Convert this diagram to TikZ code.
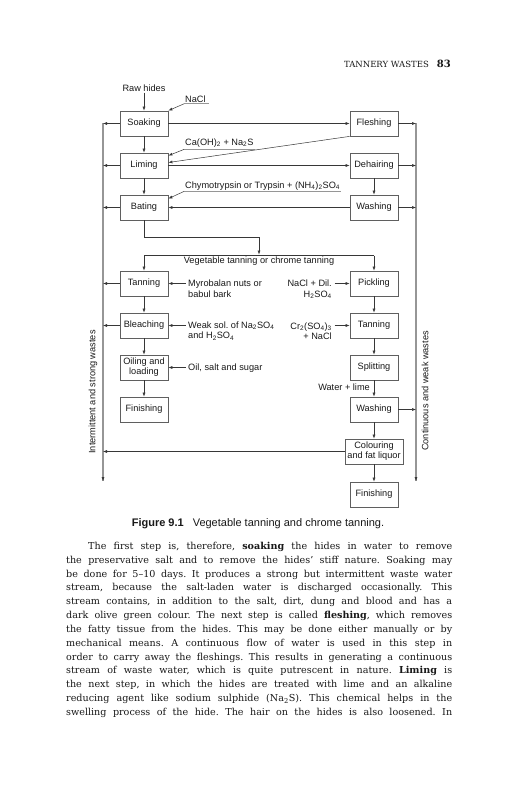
\documentclass[tikz,border=0pt]{standalone}
\usepackage{fontspec}
\setmainfont{Liberation Sans}
\newfontfamily\bodyfont{DejaVu Serif}
\usetikzlibrary{arrows.meta}
\definecolor{boxc}{RGB}{95,95,95}
\definecolor{arrc}{RGB}{55,55,55}
\definecolor{linec}{RGB}{150,150,150}
\definecolor{txtc}{RGB}{25,25,25}
\frenchspacing
\begin{document}
\begin{tikzpicture}[x=1pt,y=-1pt,
  stage/.style={draw=boxc,line width=0.75pt,minimum width=48pt,minimum height=25pt,inner sep=1pt,align=center,font=\fontsize{9.2}{10}\selectfont,text=txtc},
  lbl/.style={inner sep=1pt,font=\fontsize{9.2}{10.5}\selectfont,text=txtc},
  arr/.style={draw=arrc,line width=0.5pt,-{Latex[length=4pt,width=3pt]}},
  plainln/.style={draw=arrc,line width=0.5pt},
  wline/.style={draw=linec,line width=1.1pt},
  uline/.style={draw=linec,line width=0.6pt}]
\useasboundingbox (0,0) rectangle (516,800);
\fill[white] (0,0) rectangle (516,800);

% header
\node[anchor=base east,inner sep=0,text=txtc] (head) at (451,67)
  {\bodyfont\fontsize{8.5}{10}\selectfont TANNERY WASTES\hspace{8pt}\fontsize{10}{10}\selectfont\textbf{83}};

% left column
\node[stage] (soak) at (144,123.5) {Soaking};
\node[stage] (lim)  at (144,165.5) {Liming};
\node[stage] (bat)  at (144,207.5) {Bating};
\node[stage] (tanL) at (144,283.5) {Tanning};
\node[stage] (blea) at (144,325.5) {Bleaching};
\node[stage] (oil)  at (144,367.5) {Oiling and\\loading};
\node[stage] (finL) at (144,409.5) {Finishing};
% right column
\node[stage] (fles)  at (374,123.5) {Fleshing};
\node[stage] (deh)   at (374,165.5) {Dehairing};
\node[stage] (wash1) at (374,207.5) {Washing};
\node[stage] (pick)  at (374,283.5) {Pickling};
\node[stage] (tanR)  at (374,325.5) {Tanning};
\node[stage] (split) at (374,367.5) {Splitting};
\node[stage] (wash2) at (374,409.5) {Washing};
\node[stage,minimum width=58pt] (col) at (374,451.5) {Colouring\\and fat liquor};
\node[stage] (finR)  at (374,494.5) {Finishing};

% labels
\node[lbl] (raw) at (144,88) {Raw hides};
\node[lbl,anchor=base west] (nacl) at (184,102.5) {NaCl};
\node[lbl,anchor=base west] (caoh) at (184,145.3) {Ca(OH)\textsubscript{2} + Na\textsubscript{2}S};
\node[lbl,anchor=base west] (chymo) at (184,188.3) {Chymotrypsin or Trypsin + (NH\textsubscript{4})\textsubscript{2}SO\textsubscript{4}};
\node[lbl] (veg) at (259,261.5) {Vegetable tanning or chrome tanning};
\node[lbl,anchor=west,align=left] (myro) at (187,288.5) {Myrobalan nuts or\\babul bark};
\node[lbl,anchor=west,align=left] (weak) at (187,331) {Weak sol. of Na\textsubscript{2}SO\textsubscript{4}\\and H\textsubscript{2}SO\textsubscript{4}};
\node[lbl,anchor=west] (oils) at (187,368) {Oil, salt and sugar};
\node[lbl,anchor=east,align=right] (nacld) at (333,289.5) {NaCl + Dil.\\H\textsubscript{2}SO\textsubscript{4}};
\node[lbl,anchor=east,align=right] (cr) at (333,331) {Cr\textsubscript{2}(SO\textsubscript{4})\textsubscript{3}\\+ NaCl};
\node[lbl,anchor=east] (water) at (371,387) {Water + lime};
\node[lbl,rotate=90] (intw) at (93,392) {Intermittent and strong wastes};
\node[lbl,rotate=90] (conw) at (425,391) {Continuous and weak wastes};

% caption
\node[inner sep=0,text=txtc] (cap) at (258,524)
  {\fontsize{11}{13}\selectfont\textbf{Figure 9.1}\hspace{9pt}Vegetable tanning and chrome tanning.};

% coordinates of waste collectors
\coordinate (ltop) at (103,123);
\coordinate (lbot) at (103,481);
\coordinate (rtop) at (416,123);
\coordinate (rbot) at (416,481);
\coordinate (turn) at (144,237);
\coordinate (turn2) at (259,237);
\coordinate (jmid) at (259,255.5);
\coordinate (jl) at (144,255.5);
\coordinate (jr) at (374,255.5);

% collectors
\draw[wline] (ltop) -- (lbot);
\draw[wline] (rtop) -- (rbot);
\draw[arr] ([yshift=4pt]lbot) -- (lbot);
\draw[arr] ([yshift=4pt]rbot) -- (rbot);

% label underlines
\draw[uline] (nacl.south west) -- ([xshift=2pt]nacl.south east);
\draw[uline] ([yshift=-1pt]caoh.south west) -- ([yshift=-1pt]caoh.south east);
\draw[uline] (chymo.south west) -- (chymo.south east);

% main flow
\draw[arr] (raw) -- (soak);
\draw[arr] (nacl.south west) -- (soak.north east);
\draw[arr] (soak) -- (fles);
\draw[arr] (soak) -- (lim);
\draw[arr] (fles.south west) -- ([yshift=3pt]lim.east);
\draw[arr] ([yshift=-1pt]caoh.south west) -- ([yshift=-3pt]lim.north east);
\draw[arr] (lim) -- (deh);
\draw[arr] (lim) -- (bat);
\draw[arr] (deh) -- (wash1);
\draw[arr] (wash1) -- (bat);
\draw[arr] (chymo.south west) -- ([yshift=-4pt]bat.north east);
\draw[arr] (bat.south) -- (turn) -- (turn2) -- ([yshift=1pt]jmid);
\draw[plainln] (jl) -- (jr);
\draw[arr] (jl) -- (tanL);
\draw[arr] (jr) -- (pick);
\draw[arr] (tanL) -- (blea);
\draw[arr] (blea) -- (oil);
\draw[arr] (oil) -- (finL);
\draw[arr] (pick) -- (tanR);
\draw[arr] (tanR) -- (split);
\draw[arr] (split) -- (wash2);
\draw[arr] (wash2) -- (col);
\draw[arr] (col) -- (finR);
\draw[arr] ([xshift=-1.5pt]tanL.east -| myro.west) -- (tanL.east);
\draw[arr] ([xshift=-1.5pt]blea.east -| weak.west) -- (blea.east);
\draw[arr] ([xshift=-1.5pt]oil.east -| oils.west) -- (oil.east);
\draw[arr] ([xshift=1.5pt]pick.west -| nacld.east) -- (pick.west);
\draw[arr] ([xshift=1.5pt]tanR.west -| cr.east) -- (tanR.west);

% waste outputs
\draw[arr] (soak.west) -- (soak.west -| ltop);
\draw[arr] (lim.west) -- (lim.west -| ltop);
\draw[arr] (bat.west) -- (bat.west -| ltop);
\draw[arr] (tanL.west) -- (tanL.west -| ltop);
\draw[arr] (blea.west) -- (blea.west -| ltop);
\draw[arr] (col.west) -- (col.west -| ltop);
\draw[arr] (fles.east) -- (fles.east -| rtop);
\draw[arr] (deh.east) -- (deh.east -| rtop);
\draw[arr] (wash1.east) -- (wash1.east -| rtop);
\draw[arr] (wash2.east) -- (wash2.east -| rtop);

% body text
\node[anchor=north west,inner sep=0,text width=386pt,align=justify,text=txtc,
      font=\bodyfont\fontsize{9.6}{13.83}\selectfont] (body) at (66,542)
{\parfillskip=0pt\hspace*{22pt}The first step is, therefore, \textbf{soaking} the hides in water to remove\linebreak
the preservative salt and to remove the hides’ stiff nature. Soaking may\linebreak
be done for 5–10 days. It produces a strong but intermittent waste water\linebreak
stream, because the salt-laden water is discharged occasionally. This\linebreak
stream contains, in addition to the salt, dirt, dung and blood and has a\linebreak
dark olive green colour. The next step is called \textbf{fleshing}, which removes\linebreak
the fatty tissue from the hides. This may be done either manually or by\linebreak
mechanical means. A continuous flow of water is used in this step in\linebreak
order to carry away the fleshings. This results in generating a continuous\linebreak
stream of waste water, which is quite putrescent in nature. \textbf{Liming} is\linebreak
the next step, in which the hides are treated with lime and an alkaline\linebreak
reducing agent like sodium sulphide (Na\textsubscript{2}S). This chemical helps in the\linebreak
swelling process of the hide. The hair on the hides is also loosened. In\par};
\end{tikzpicture}
\end{document}
